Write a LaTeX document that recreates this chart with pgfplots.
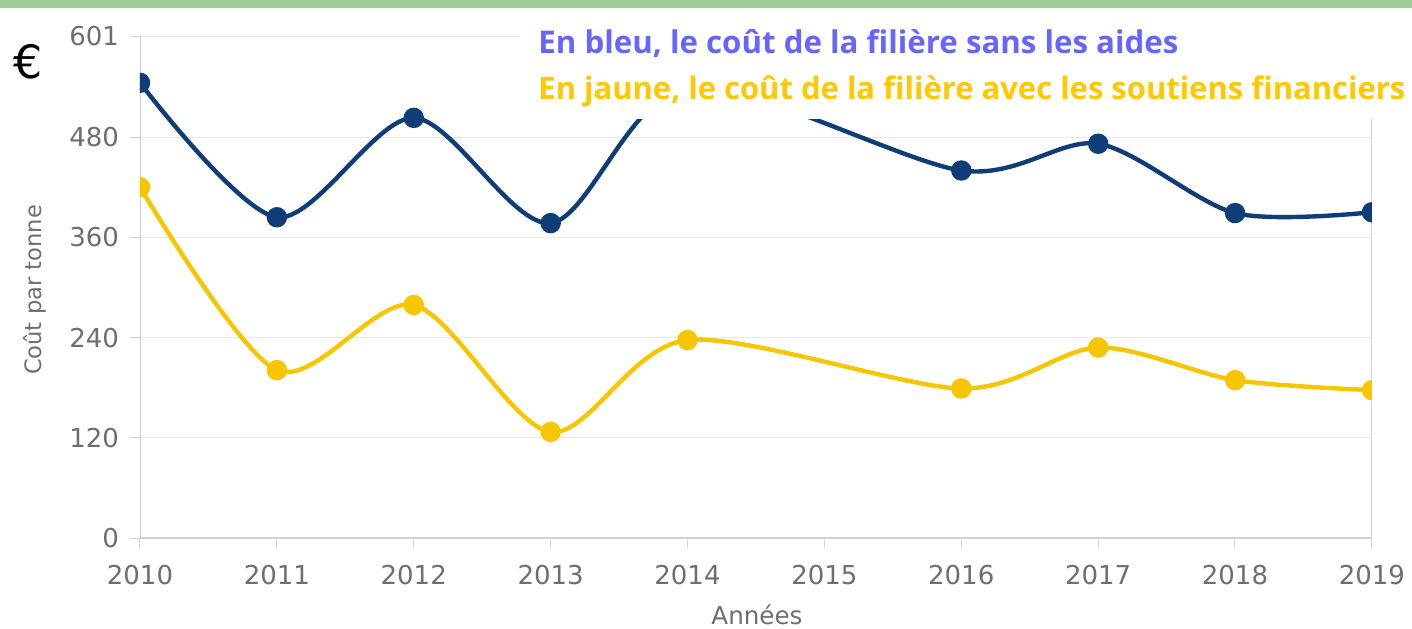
\documentclass[border=0pt]{standalone}
\usepackage{fontspec}
\setmainfont{DejaVu Sans}
\newfontfamily\legfont{Open Sans}
\usepackage{pgfplots}
\pgfplotsset{compat=1.18}
\definecolor{bleu}{HTML}{0E3D78}
\definecolor{jaune}{HTML}{F7C600}
\definecolor{txtbleu}{HTML}{6666FF}
\definecolor{txtjaune}{HTML}{FFC800}
\definecolor{vert}{HTML}{9BCD96}
\definecolor{lab}{HTML}{6E6E6E}
\begin{document}
\begin{tikzpicture}
\path[use as bounding box] (0,0) rectangle (706pt,314pt);
\fill[vert] (0,310pt) rectangle (706pt,314pt);
\begin{axis}[
  at={(70pt,45pt)}, anchor=south west,
  scale only axis, width=616pt, height=251pt,
  xmin=2010, xmax=2019, ymin=0, ymax=601,
  xtick={2010,...,2019}, ytick={0,120,240,360,480,601},
  /pgf/number format/assume math mode=true,
  xticklabel style={/pgf/number format/1000 sep={}, yshift=-5pt},
  yticklabel style={xshift=-2pt},
  ticklabel style={font=\fontsize{13}{15}\selectfont, text=lab},
  ymajorgrids, major grid style={draw=gray!18, line width=0.5pt},
  axis line style={draw=none},
  tick pos=left,
  tick style={draw=gray!35, line width=0.5pt},
  tick align=outside, major tick length=5pt,
  clip marker paths=true,
]
\draw[gray!35, line width=0.8pt] (rel axis cs:0,1) -- (rel axis cs:0,0) -- (rel axis cs:1,0) -- (rel axis cs:1,1);
% bleu : sans les aides (2015 manquant)
\addplot[bleu, line width=2.2pt, smooth, mark=*, mark size=4pt, mark options={fill=bleu, draw=bleu}]
  coordinates {(2010,545) (2011,384) (2012,503) (2013,377) (2014,540) (2016,440) (2017,472) (2018,389) (2019,390)};
% jaune : avec les soutiens financiers
\addplot[jaune, line width=2.2pt, smooth, mark=*, mark size=4pt, mark options={fill=jaune, draw=jaune}]
  coordinates {(2010,420) (2011,201) (2012,279) (2013,127) (2014,237) (2016,179) (2017,228) (2018,189) (2019,177)};
\end{axis}
\fill[white] (260pt,254.5pt) rectangle (706pt,309pt);
\node[anchor=base west, inner sep=0, text=txtbleu] at (269pt,287pt)
  {\resizebox{320pt}{!}{\legfont\bfseries En bleu, le coût de la filière sans les aides}};
\node[anchor=base west, inner sep=0, text=txtjaune] at (269pt,264pt)
  {\resizebox{433.5pt}{!}{\legfont\bfseries En jaune, le coût de la filière avec les soutiens financiers}};
\node at (14pt,283pt) {\fontsize{23}{24}\selectfont €};
\node[rotate=90, text=lab, font=\fontsize{11.3}{13}\selectfont] at (17.5pt,169pt) {Coût par tonne};
\node[text=lab, font=\fontsize{12.3}{14}\selectfont] at (378.5pt,6.5pt) {Années};
\end{tikzpicture}
\end{document}
